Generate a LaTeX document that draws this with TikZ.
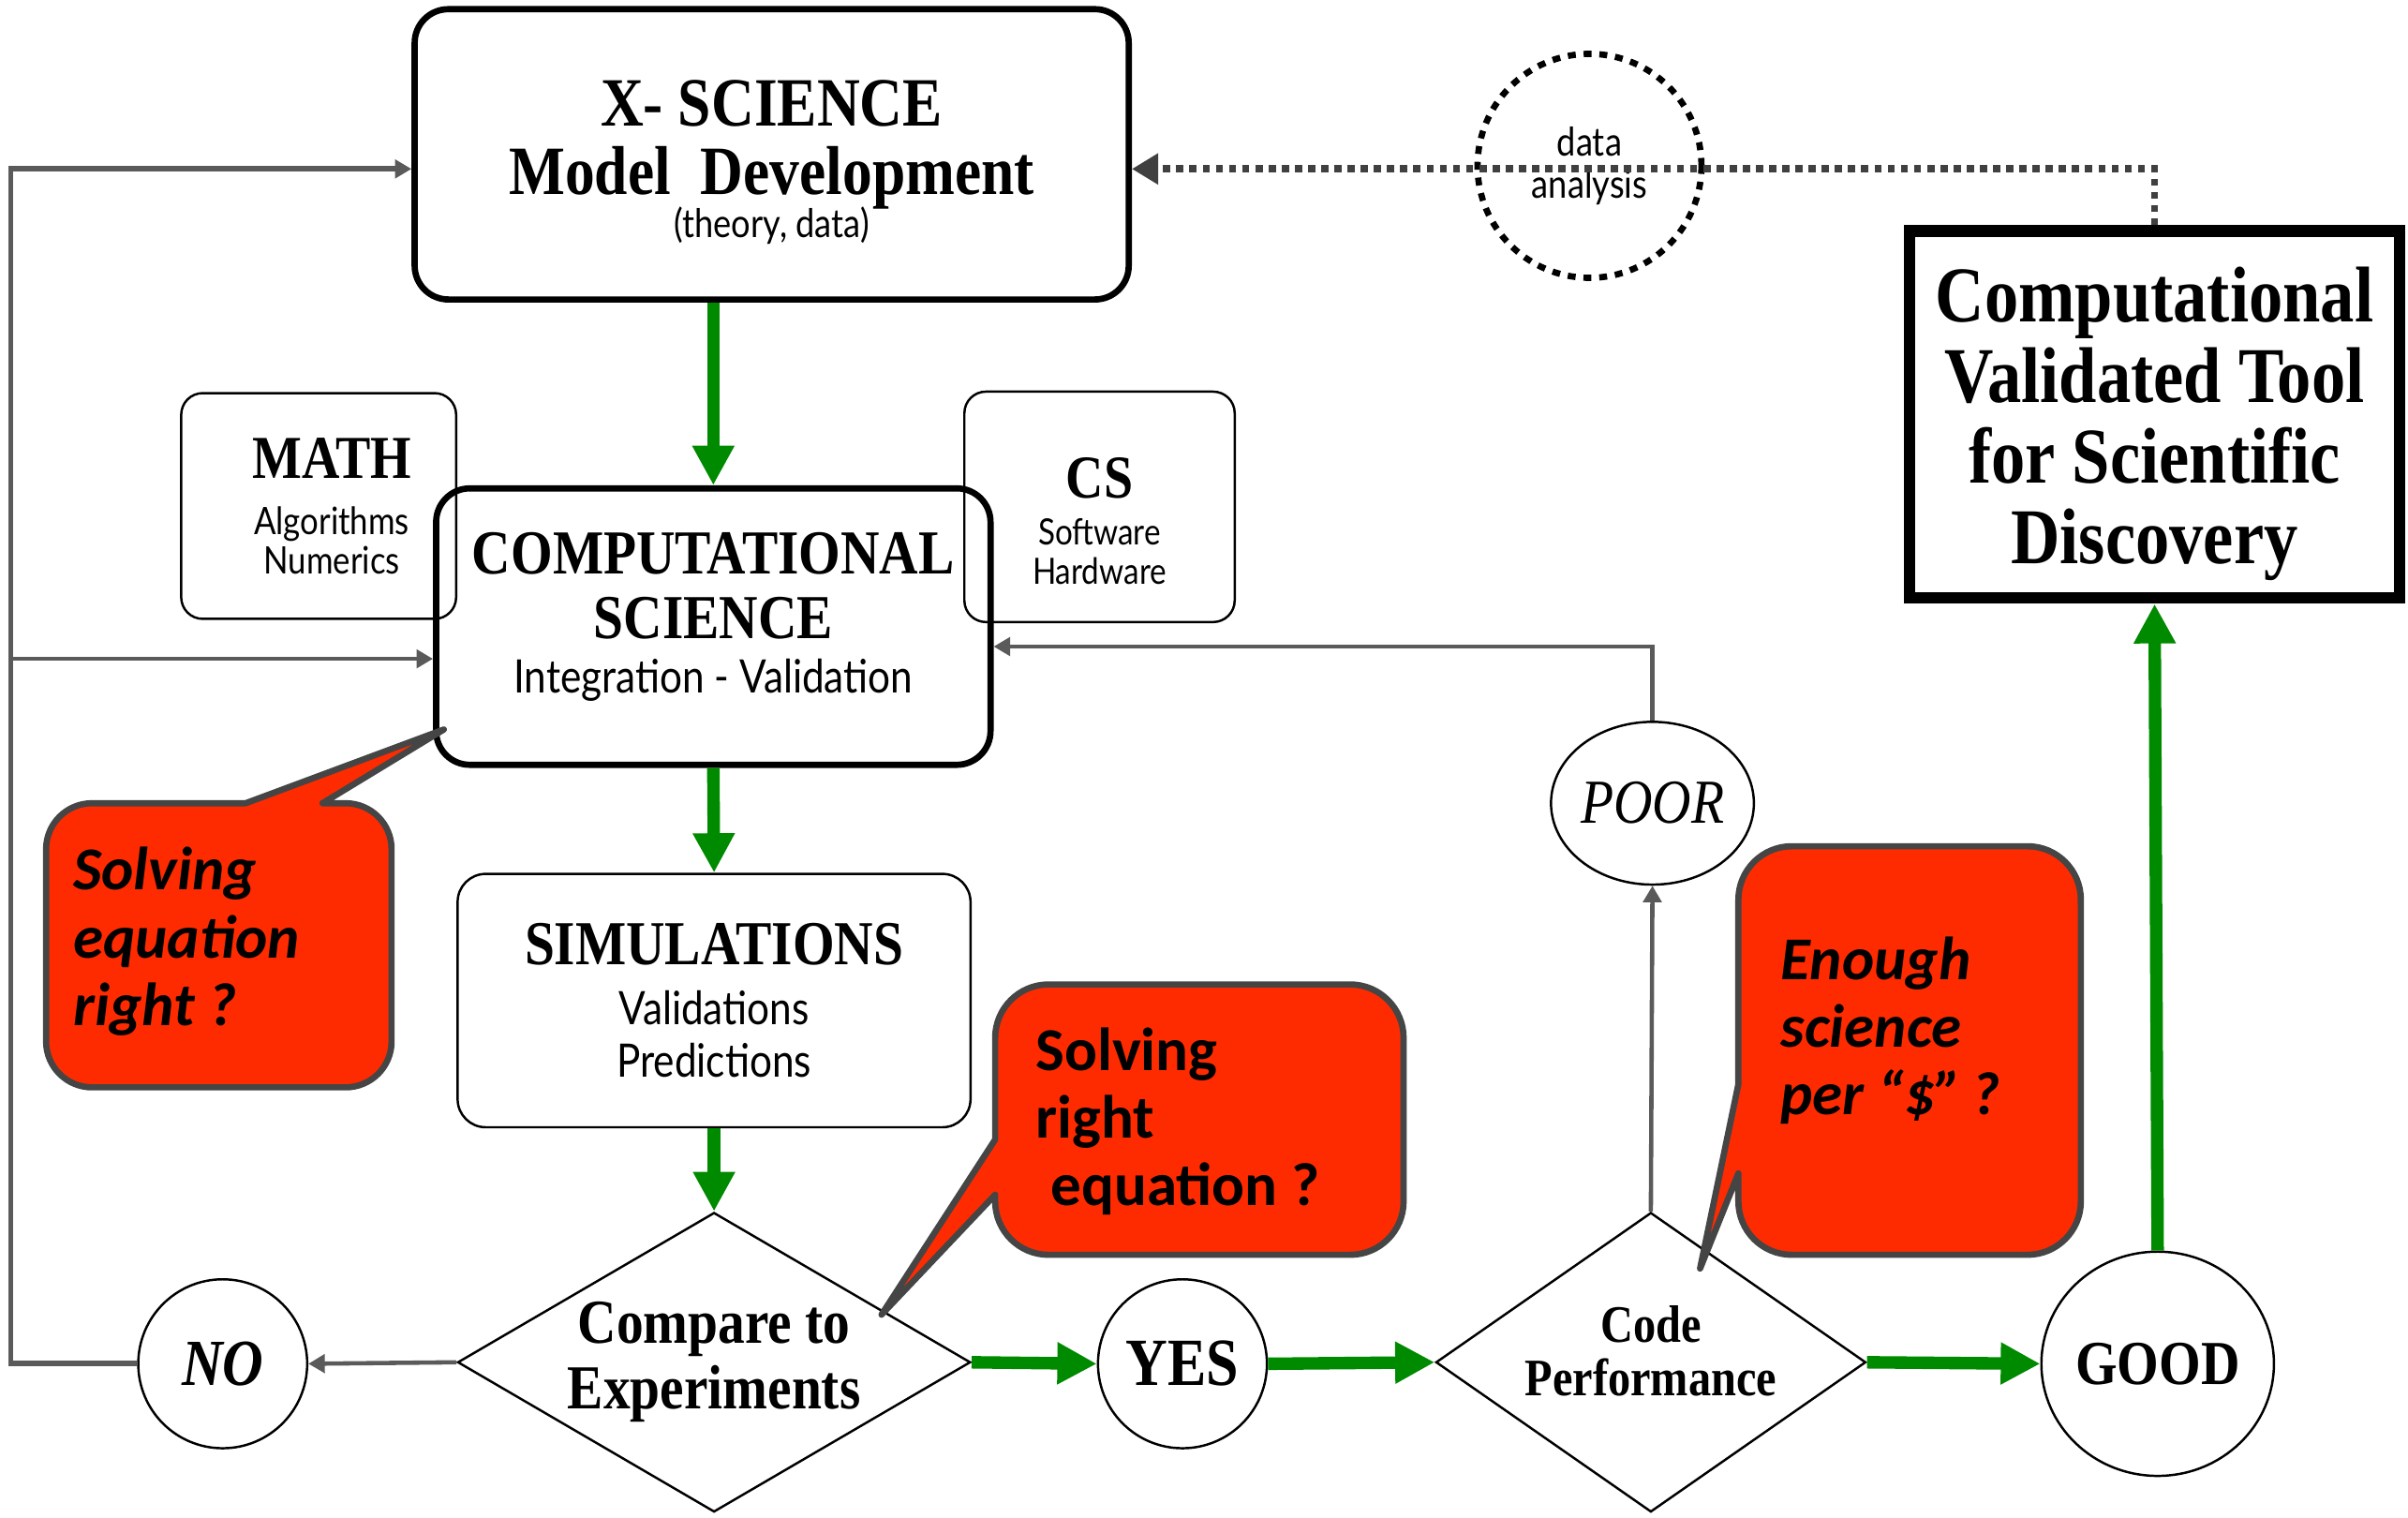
\documentclass[tikz,border=0pt]{standalone}
\usepackage{fontspec}
\setmainfont{Liberation Serif}[FakeStretch=0.86]
\newfontfamily\gillsans{Lato}[FakeStretch=0.86]
\newfontfamily\bubblefont{Carlito}
\usetikzlibrary{arrows.meta,shapes.geometric,positioning}

\definecolor{okgreen}{RGB}{0,138,0}
\definecolor{loopgray}{RGB}{90,90,90}
\definecolor{dotgray}{RGB}{64,64,64}
\definecolor{bubblered}{RGB}{255,43,0}
\definecolor{bubbleedge}{RGB}{69,69,69}

\begin{document}
\begin{tikzpicture}[
    thickbox/.style={draw,line width=1.9pt,rounded corners=0.36cm,align=center},
    thinbox/.style={draw,line width=0.7pt,rounded corners=0.23cm,align=center},
    decision/.style={draw,diamond,line width=0.7pt,inner sep=0pt,align=center},
    answer/.style={draw,ellipse,line width=0.7pt,inner sep=0pt},
    go/.style={okgreen,line width=3.8pt,-{Triangle[length=12pt,width=12pt]}},
    back/.style={loopgray,line width=1.3pt,-{Triangle[length=5pt,width=5.5pt]}},
    bubble/.style={fill=bubblered,draw=bubbleedge,line width=1.9pt,line join=round},
    bubbletext/.style={anchor=west,align=left,font=\bubblefont\bfseries\fontsize{18.5}{20.5}\selectfont}
  ]
%      \draw[help lines] (0,-16) grid (26,0);
      \useasboundingbox (0,0) rectangle (25.70,-16.193);

      % main chain
      \node[thickbox,minimum width=7.621cm,minimum height=3.098cm,
            font=\bfseries\fontsize{21}{21}\selectfont] (xsci) at (8.236,-1.647)
            {\rule{0pt}{18.6pt}X- SCIENCE\\Model\ \ Development\\[-8pt]{\gillsans\mdseries\fontsize{12}{13}\selectfont (theory, data)}};
      \node[thinbox,minimum width=2.934cm,minimum height=2.409cm,
            font=\gillsans\fontsize{11.5}{12}\selectfont] (math) at (3.401,-5.400)
            {\hspace*{8pt}{\rmfamily\bfseries\fontsize{18.5}{18.5}\selectfont MATH}\\[5pt]\hspace*{8pt}Algorithms\\\hspace*{8pt}Numerics};
      \node[thinbox,minimum width=2.885cm,minimum height=2.459cm,
            font=\gillsans\fontsize{11}{12}\selectfont] (cs) at (11.735,-5.409)
            {{\rmfamily\bfseries\fontsize{18.5}{18.5}\selectfont\rule{0pt}{21pt}CS}\\[2pt]Software\\Hardware};
      \node[thickbox,minimum width=5.917cm,minimum height=2.950cm,
            font=\bfseries\fontsize{19}{19.6}\selectfont] (compsci) at (7.613,-6.687)
            {COMPUTATIONAL\\SCIENCE\\[-3pt]{\gillsans\mdseries\fontsize{14}{14}\selectfont Integration - Validation\rule[-8.4pt]{0pt}{8.4pt}}};
      \node[thinbox,rounded corners=0.3cm,minimum width=5.474cm,minimum height=2.704cm,
            font=\gillsans\fontsize{14}{16}\selectfont] (sim) at (7.621,-10.678)
            {{\rmfamily\bfseries\fontsize{19}{19}\selectfont SIMULATIONS}\\[2pt]Validations\\Predictions};
      \node[decision,aspect=1.71,minimum width=5.474cm,minimum height=3.196cm,
            font=\bfseries\fontsize{19}{20}\selectfont] (compare) at (7.621,-14.538)
            {Compare to\\Experiments};
      \node[answer,minimum size=1.803cm,font=\bfseries\itshape\fontsize{20}{20}\selectfont] (no) at (2.377,-14.554) {NO};
      \node[answer,minimum size=1.803cm,font=\bfseries\fontsize{20.5}{20.5}\selectfont] (yes) at (12.620,-14.554) {YES};
      \node[decision,aspect=1.436,minimum width=4.589cm,minimum height=3.196cm,
            font=\bfseries\fontsize{16}{16}\selectfont] (perf) at (17.619,-14.538)
            {Code\\Performance\rule[-7pt]{0pt}{7pt}};
      \node[answer,minimum width=2.131cm,minimum height=1.737cm,
            font=\itshape\fontsize{19}{19}\selectfont] (poor) at (17.636,-8.572) {POOR};
      \node[answer,minimum size=2.393cm,font=\bfseries\fontsize{19}{19}\selectfont] (good) at (23.028,-14.554) {GOOD};
      \node[draw,line width=3.5pt,align=center,minimum width=5.228cm,minimum height=3.917cm,
            font=\bfseries\fontsize{24}{24.5}\selectfont] (tool) at (22.995,-4.425)
            {\rule{0pt}{22.3pt}Computational\\Validated Tool\\for Scientific\\Discovery};
      \node[draw,circle,line width=1.9pt,dash pattern=on 2.4pt off 2.4pt,minimum size=2.39cm,
            align=center,font=\gillsans\fontsize{12}{12.6}\selectfont] (data) at (16.964,-1.770)
            {data\\analysis};

      % green path
      \draw[go] (xsci.south -| compsci.north) -- (compsci.north);
      \draw[go] (compsci.south) -- (sim.north);
      \draw[go] (sim.south) -- (compare.north);
      \draw[go] (compare.east) -- (yes.west);
      \draw[go] (yes.east) -- (perf.west);
      \draw[go] (perf.east) -- (good.west);
      \draw[go] (good.north) -- (tool.south);

      % feedback
      \coordinate (loop) at (0.115,-1.803);
      \coordinate (branch) at (0.115,-7.031);
      \coordinate (poorturn) at (17.636,-6.900);
      \draw[back] (compare.west) -- (no.east);
      \draw[back,line width=1.7pt] (no.west) -| (loop) -- (loop -| xsci.west);
      \draw[back] (branch) -- (branch -| compsci.west);
      \draw[back] (perf.north) -- (poor.south);
      \draw[back] (poor.north) -- (poorturn) -- (poorturn -| compsci.east);
      \draw[dotgray,line width=2.2pt,dash pattern=on 2.2pt off 1.8pt,-{Triangle[length=8pt,width=9pt]}]
            (tool.north) -- (tool.north |- loop) -- (loop -| xsci.east);

      % question bubbles
      \draw[bubble] (2.622,-8.572) -- (4.737,-7.785) -- (3.442,-8.572) -- (3.689,-8.572)
            arc[start angle=90,end angle=0,radius=0.49] -- (4.179,-11.114)
            arc[start angle=0,end angle=-90,radius=0.49] -- (0.982,-11.604)
            arc[start angle=270,end angle=180,radius=0.49] -- (0.492,-9.062)
            arc[start angle=180,end angle=90,radius=0.49] -- cycle;
      \node[bubbletext,font=\bubblefont\bfseries\itshape\fontsize{18.5}{20.5}\selectfont] (askA) at (0.66,-10.047)
            {Solving\\equation\\right ?};

      \draw[bubble] (10.621,-12.161) -- (9.408,-14.030) -- (10.621,-12.75) -- (10.621,-12.821)
            arc[start angle=180,end angle=270,radius=0.57] -- (14.41,-13.391)
            arc[start angle=270,end angle=360,radius=0.57] -- (14.980,-11.076)
            arc[start angle=0,end angle=90,radius=0.57] -- (11.191,-10.506)
            arc[start angle=90,end angle=180,radius=0.57] -- cycle;
      \node[bubbletext] (askB) at (10.93,-11.965)
            {Solving\\right\\\hspace{0.25em}equation ?};

      \draw[bubble] (18.553,-11.571) -- (18.144,-13.538) -- (18.553,-12.522) -- (18.553,-12.821)
            arc[start angle=180,end angle=270,radius=0.57] -- (21.638,-13.391)
            arc[start angle=270,end angle=360,radius=0.57] -- (22.208,-9.601)
            arc[start angle=0,end angle=90,radius=0.57] -- (19.123,-9.031)
            arc[start angle=90,end angle=180,radius=0.57] -- cycle;
      \node[bubbletext,font=\bubblefont\bfseries\itshape\fontsize{18.5}{20.5}\selectfont] (askC) at (18.88,-10.998)
            {Enough\\science\\per “\$”\,?};
\end{tikzpicture}
\end{document}
